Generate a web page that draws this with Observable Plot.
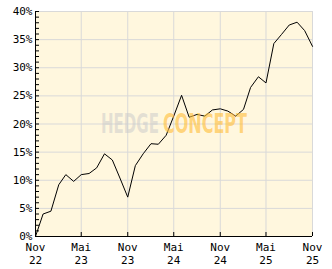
<!DOCTYPE html>
<html>
<head>
<meta charset="utf-8">
<script src="https://cdn.jsdelivr.net/npm/d3@7"></script>
<script src="https://cdn.jsdelivr.net/npm/@observablehq/plot@0.6"></script>
<style>
  html, body { margin: 0; padding: 0; background: #ffffff; }
  #chart svg { display: block; }
</style>
</head>
<body>
<div id="chart"></div>
<script>
// Monthly performance (%), Nov 2022 – Nov 2025
const months = [
  "2022-11","2022-12","2023-01","2023-02","2023-03","2023-04","2023-05","2023-06",
  "2023-07","2023-08","2023-09","2023-10","2023-11","2023-12","2024-01","2024-02",
  "2024-03","2024-04","2024-05","2024-06","2024-07","2024-08","2024-09","2024-10",
  "2024-11","2024-12","2025-01","2025-02","2025-03","2025-04","2025-05","2025-06",
  "2025-07","2025-08","2025-09","2025-10","2025-11"
];
const values = [
  0.0, 4.0, 4.5, 9.2, 11.0, 9.8, 11.0, 11.2,
  12.2, 14.7, 13.6, 10.4, 7.0, 12.6, 14.7, 16.5,
  16.4, 18.0, 21.4, 25.1, 21.2, 21.7, 21.4, 22.5,
  22.7, 22.3, 21.4, 22.6, 26.5, 28.4, 27.3, 34.3,
  35.9, 37.6, 38.1, 36.6, 33.8
];
const xTickMonths = ["2022-11","2023-05","2023-11","2024-05","2024-11","2025-05","2025-11"];
const xTickLabels = ["Nov\n22","Mai\n23","Nov\n23","Mai\n24","Nov\n24","Mai\n25","Nov\n25"];
const yMajorTicks = [0, 5, 10, 15, 20, 25, 30, 35, 40];
const yMinorTicks = d3.range(0, 41, 1);
const watermarkParts = ["HEDGE", "CONCEPT"];

const parseMonth = s => { const [y, m] = s.split("-").map(Number); return new Date(Date.UTC(y, m - 1, 1)); };
const data = months.map((m, i) => ({date: parseMonth(m), value: values[i]}));
const xTicks = xTickMonths.map(parseMonth);
const labelFor = new Map(xTicks.map((d, i) => [+d, xTickLabels[i]]));

const font = "'DejaVu Sans Mono', monospace";
const wmFont = "'DejaVu Sans', sans-serif";

const chart = Plot.plot({
  width: 332,
  height: 269,
  marginLeft: 35,
  marginRight: 20,
  marginTop: 11,
  marginBottom: 33,
  style: {fontFamily: font, fontSize: "11px", color: "#000", background: "#fff"},
  x: {type: "utc", domain: [xTicks[0], xTicks[xTicks.length - 1]], label: null},
  y: {domain: [0, 40], label: null},
  marks: [
    Plot.frame({fill: "#fff7de", stroke: null}),
    Plot.gridX(xTicks, {stroke: "#d9d9d9", strokeOpacity: 1, strokeWidth: 1}),
    Plot.gridY(yMajorTicks, {stroke: "#d9d9d9", strokeOpacity: 1, strokeWidth: 1}),
    Plot.line(data, {x: "date", y: "value", stroke: "#000", strokeWidth: 1}),
    Plot.text([watermarkParts[0]], {text: d => d, frameAnchor: "middle", textAnchor: "end", dx: -15, dy: 1,
      fill: "#c8c8c8", fillOpacity: 0.5, fontSize: 26, fontWeight: 900,
      fontFamily: wmFont, className: "wm-hedge"}),
    Plot.text([watermarkParts[1]], {text: d => d, frameAnchor: "middle", textAnchor: "start", dx: -11, dy: 1,
      fill: "#ffc040", fillOpacity: 0.65, fontSize: 26, fontWeight: 900,
      fontFamily: wmFont, className: "wm-concept"}),
    Plot.ruleX([xTicks[0]], {stroke: "#000"}),
    Plot.ruleY([0], {stroke: "#000"}),
    Plot.axisY({ticks: yMinorTicks, tickSize: 4, dx: 4, text: null, label: null, stroke: "#000", strokeOpacity: 1}),
    Plot.axisY({ticks: yMajorTicks, tickSize: 0, tickPadding: 3, label: null, tickFormat: d => d + "%", fill: "#000", fontSize: 11}),
    Plot.axisX({ticks: xTicks, tickSize: 4, dy: -4, text: null, label: null, stroke: "#000", strokeOpacity: 1}),
    Plot.axisX({ticks: xTicks, tickSize: 0, tickPadding: 5, label: null, tickFormat: d => labelFor.get(+d), lineHeight: 1.18, fill: "#000", fontSize: 11})
  ]
});

// squeeze watermark parts to their widths
d3.select(chart).selectAll(".wm-hedge text").attr("textLength", 58).attr("lengthAdjust", "spacingAndGlyphs");
d3.select(chart).selectAll(".wm-concept text").attr("textLength", 84).attr("lengthAdjust", "spacingAndGlyphs");

document.getElementById("chart").append(chart);
</script>
</body>
</html>
